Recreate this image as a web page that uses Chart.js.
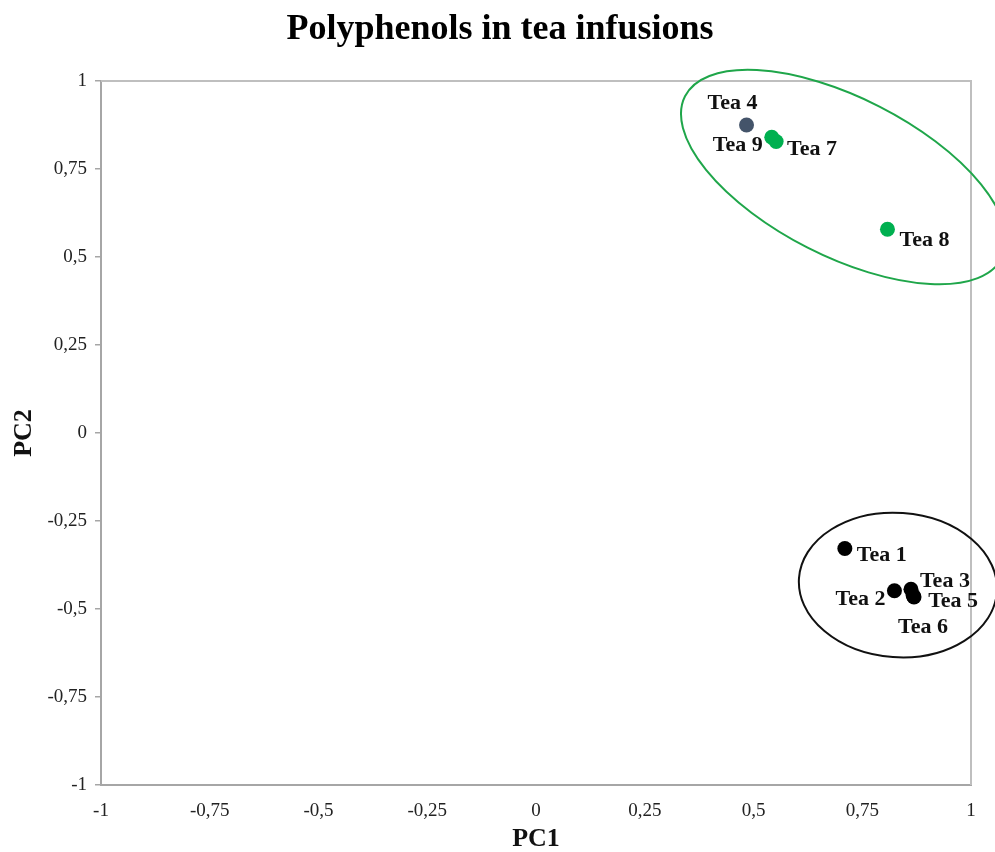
<!DOCTYPE html>
<html>
<head>
<meta charset="utf-8">
<script src="https://cdn.jsdelivr.net/npm/chart.js@4"></script>
<style>
  html, body { margin: 0; padding: 0; background: #ffffff; }
  #wrap { width: 995px; height: 852px; }
</style>
</head>
<body>
<div id="wrap"><canvas id="c" width="995" height="852"></canvas></div>
<script>
// ---- data ----
const chartTitle = "Polyphenols in tea infusions";
const teaNames = ["Tea 1", "Tea 2", "Tea 3", "Tea 4", "Tea 5", "Tea 6", "Tea 7", "Tea 8", "Tea 9"];
const pc1 = [0.710, 0.824, 0.862, 0.484, 0.867, 0.869, 0.552, 0.808, 0.542];
const pc2 = [-0.328, -0.448, -0.444, 0.875, -0.462, -0.466, 0.828, 0.579, 0.840];
const teaGroup = ["black", "black", "black", "slate", "black", "black", "green", "green", "green"];
const tickValues = [-1, -0.75, -0.5, -0.25, 0, 0.25, 0.5, 0.75, 1];
const tickLabels = ["-1", "-0,75", "-0,5", "-0,25", "0", "0,25", "0,5", "0,75", "1"];

// ---- styles ----
const groupColors = { black: "#000000", slate: "#44546A", green: "#00B050" };
const serif = "'Liberation Serif', 'Times New Roman', Times, serif";
const labelStyle = [
  { dx: 12, dy: 7, align: "left" },
  { dx: -9, dy: 9, align: "right" },
  { dx: 9, dy: -8, align: "left" },
  { dx: -14, dy: -22, align: "center" },
  { dx: 15, dy: 6, align: "left" },
  { dx: 9, dy: 30, align: "center" },
  { dx: 11, dy: 8, align: "left" },
  { dx: 12, dy: 11, align: "left" },
  { dx: -9, dy: 8, align: "right" }
];
// cluster ellipses: centre in data units, semi-axes in x-axis units, rotation in degrees
const clusterEllipses = [
  { cx: 0.707, cy: 0.727, rx: 0.409, ry: 0.182, rot: 27, color: "#1FA64A" },
  { cx: 0.832, cy: -0.432, rx: 0.228, ry: 0.166, rot: 4, color: "#111111" }
];

function tickLabel(v) {
  for (let i = 0; i < tickValues.length; i++) {
    if (Math.abs(tickValues[i] - v) < 1e-6) return tickLabels[i];
  }
  return "";
}

const overlay = {
  id: "overlay",
  afterDraw(chart) {
    const ctx = chart.ctx;
    const ca = chart.chartArea;
    const xs = chart.scales.x, ys = chart.scales.y;
    ctx.save();
    // title
    ctx.fillStyle = "#000000";
    ctx.font = "bold 36px " + serif;
    ctx.textAlign = "center";
    ctx.textBaseline = "alphabetic";
    ctx.fillText(chartTitle, 500, 39);
    // top and right frame lines
    ctx.strokeStyle = "#BFBFBF";
    ctx.lineWidth = 2;
    ctx.beginPath();
    ctx.moveTo(ca.left, ca.top);
    ctx.lineTo(ca.right, ca.top);
    ctx.lineTo(ca.right, ca.bottom);
    ctx.stroke();
    // ellipses
    const unit = xs.getPixelForValue(1) - xs.getPixelForValue(0);
    clusterEllipses.forEach(e => {
      ctx.beginPath();
      ctx.strokeStyle = e.color;
      ctx.lineWidth = 2;
      ctx.ellipse(xs.getPixelForValue(e.cx), ys.getPixelForValue(e.cy),
        e.rx * unit, e.ry * unit, e.rot * Math.PI / 180, 0, Math.PI * 2);
      ctx.stroke();
    });
    // point labels
    const meta = chart.getDatasetMeta(0);
    ctx.fillStyle = "#111111";
    ctx.font = "bold 22px " + serif;
    ctx.textBaseline = "middle";
    meta.data.forEach((pt, i) => {
      const s = labelStyle[i];
      ctx.textAlign = s.align;
      ctx.fillText(teaNames[i], pt.x + s.dx, pt.y + s.dy);
    });
    ctx.restore();
  }
};

const points = pc1.map((x, i) => ({ x: x, y: pc2[i] }));

new Chart(document.getElementById("c"), {
  type: "scatter",
  data: {
    datasets: [{
      data: points,
      pointRadius: 7.5,
      pointHoverRadius: 7.5,
      pointBackgroundColor: teaGroup.map(g => groupColors[g]),
      pointBorderColor: teaGroup.map(g => groupColors[g]),
      pointBorderWidth: 0
    }]
  },
  options: {
    responsive: false,
    animation: false,
    devicePixelRatio: 1,
    layout: { padding: { left: 0, right: 24, top: 81, bottom: 0 } },
    plugins: {
      legend: { display: false },
      tooltip: { enabled: false },
      title: { display: false }
    },
    scales: {
      x: {
        type: "linear",
        min: -1, max: 1,
        afterFit(s) { s.height = 67; },
        afterBuildTicks(s) { s.ticks = tickValues.map(v => ({ value: v })); },
        grid: { drawOnChartArea: false, drawTicks: false, color: "#A6A6A6" },
        border: { display: true, color: "#A6A6A6", width: 2 },
        ticks: {
          padding: 15,
          color: "#222222",
          font: { family: serif, size: 19 },
          maxRotation: 0,
          autoSkip: false,
          callback: v => tickLabel(v)
        },
        title: {
          display: true,
          text: "PC1",
          color: "#111111",
          font: { family: serif, size: 26, weight: "bold", lineHeight: 1 },
          padding: { top: 0, bottom: 0 }
        }
      },
      y: {
        type: "linear",
        min: -1, max: 1,
        afterFit(s) { s.width = 101; },
        afterBuildTicks(s) { s.ticks = tickValues.map(v => ({ value: v })); },
        grid: { drawOnChartArea: false, drawTicks: true, tickLength: 6, color: "#A6A6A6", lineWidth: 1.5 },
        border: { display: true, color: "#A6A6A6", width: 2 },
        ticks: {
          padding: 8,
          color: "#222222",
          font: { family: serif, size: 19 },
          autoSkip: false,
          callback: v => tickLabel(v)
        },
        title: {
          display: true,
          text: "PC2",
          color: "#111111",
          font: { family: serif, size: 26, weight: "bold", lineHeight: 1 },
          padding: { top: 11, bottom: 0 }
        }
      }
    }
  },
  plugins: [overlay]
});
</script>
</body>
</html>
